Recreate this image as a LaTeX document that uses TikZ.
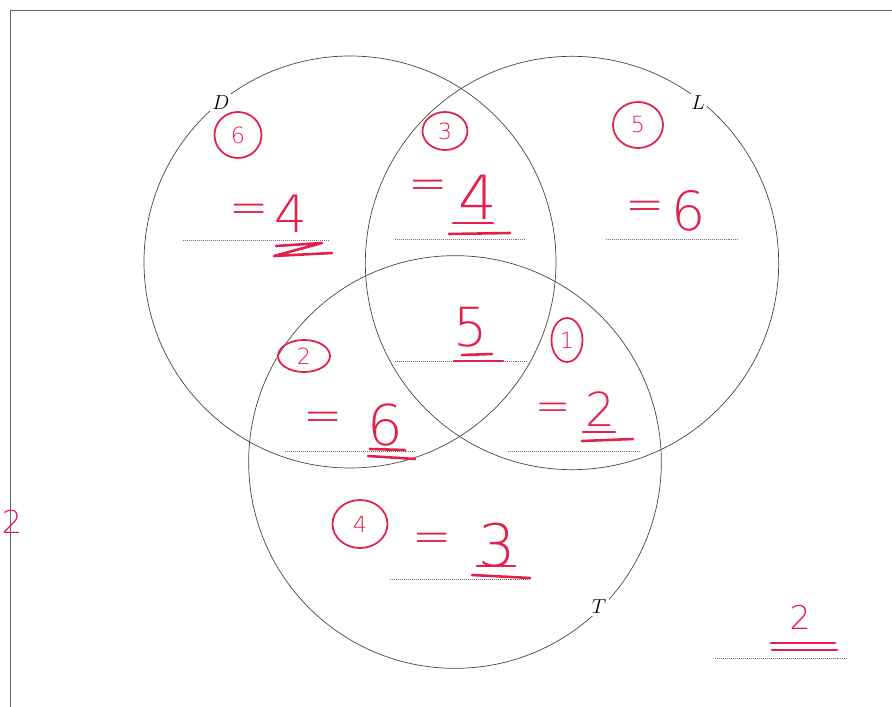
\documentclass[tikz,border=0pt]{standalone}
\usepackage{fontspec}
\usetikzlibrary{shapes.geometric}
\newfontfamily\hand[UprightFont=* ExtraLight]{DejaVu Sans}
\definecolor{handred}{RGB}{228,32,74}
\tikzset{
  venn/.style={draw=black!72, line width=0.6pt},
  lbl/.style={fill=white, inner sep=2pt, font=\fontsize{17}{20}\selectfont},
  guide/.style={draw=black!55, line width=0.7pt, dash pattern=on 0.6pt off 1.1pt},
  hw/.style={text=handred, inner sep=0pt, font=\hand\fontsize{#1}{#1}\selectfont},
  ring/.style={ellipse, draw=handred, line width=1.5pt, inner sep=0pt, text=handred,
               font=\hand\fontsize{19}{19}\selectfont},
  ul/.style={draw=handred, line width=2.2pt, line cap=round, line join=round},
}
\begin{document}
\begin{tikzpicture}[x=0.03cm, y=-0.03cm]
\useasboundingbox (0,0) rectangle (892,707);
% frame
\draw[black!60, line width=0.8pt] (10,707) -- (10,10) -- (892,10);
% venn circles
\coordinate (cD) at (350,262);
\coordinate (cL) at (572,263);
\coordinate (cT) at (455,462);
\draw[venn] (cD) circle[radius=6.18cm];
\draw[venn] (cL) circle[radius=6.2cm];
\draw[venn] (cT) circle[radius=6.19cm];
\node[lbl] (labD) at (221,103) {$D$};
\node[lbl] (labL) at (698,103) {$L$};
\node[lbl] (labT) at (599,607) {$T$};
% dotted answer lines
\draw[guide] (183,240) -- (330,240);
\draw[guide] (395,239) -- (525,239);
\draw[guide] (606,239) -- (738,239);
\draw[guide] (395,361) -- (527,361);
\draw[guide] (285,451) -- (415,451);
\draw[guide] (508,451) -- (640,451);
\draw[guide] (390,579) -- (530,579);
\draw[guide] (715,658) -- (847,658);
% circled region numbers
\node[ring, minimum width=1.41cm, minimum height=1.38cm] (r6) at (238,135) {6};
\node[ring, minimum width=1.35cm, minimum height=1.14cm] (r3) at (445,131) {3};
\node[ring, minimum width=1.50cm, minimum height=1.38cm] (r5) at (638,125) {5};
\node[ring, minimum width=0.93cm, minimum height=1.32cm] (r1) at (567,340) {1};
\node[ring, minimum width=1.56cm, minimum height=0.96cm] (r2) at (304,356) {2};
\node[ring, minimum width=1.65cm, minimum height=1.44cm] (r4) at (360,524) {4};
% handwritten values
\node[hw=40] (eqD) at (249,214) {=};
\node[hw=44] (vD) at (291,214) {4};
\draw[ul] (276,246) -- (322,243) -- (274,256) -- (332,253);
\node[hw=40] (eqDL) at (428,190) {=};
\node[hw=52] (vDL) at (478,197) {4};
\draw[ul] (453,223) -- (493,223);
\draw[ul] (449,234) -- (510,233);
\node[hw=40] (eqL) at (645,211) {=};
\node[hw=46] (vL) at (689,211) {6};
\node[hw=46] (vC) at (471,327) {5};
\draw[ul] (462,355) -- (492,354);
\draw[ul] (454,361) -- (503,361);
\node[hw=40] (eqDT) at (323,422) {=};
\node[hw=48] (vDT) at (385,425) {6};
\draw[ul] (370,449) -- (405,450);
\draw[ul] (368,456) -- (415,459);
\node[hw=36] (eqLT) at (553,412) {=};
\node[hw=40] (vLT) at (600,409) {2};
\draw[ul] (583,432) -- (615,432);
\draw[ul] (582,441) -- (633,439);
\node[hw=40] (eqT) at (432,543) {=};
\node[hw=50] (vT) at (497,545) {3};
\draw[ul] (477,566) -- (515,566);
\draw[ul] (472,575) -- (530,578);
\node[hw=28] (vO) at (800,617) {2};
\draw[ul] (771,643) -- (835,643);
\draw[ul] (772,650) -- (837,650);
\node[hw=27] (vE) at (12,522) {2};
\end{tikzpicture}
\end{document}
